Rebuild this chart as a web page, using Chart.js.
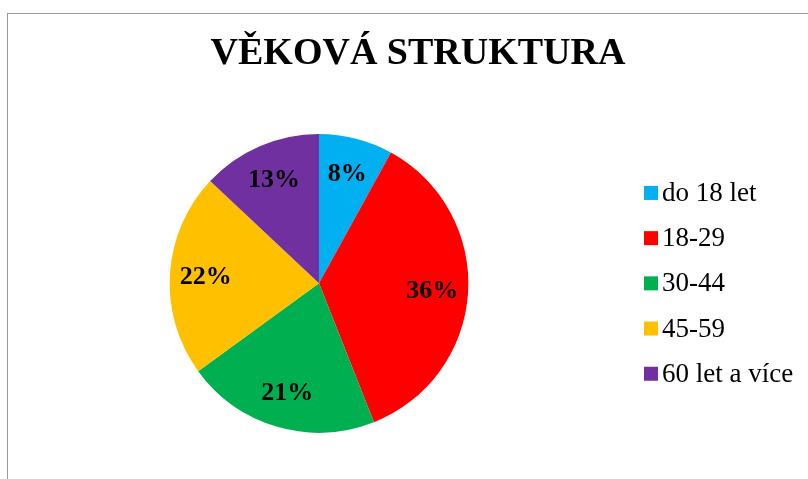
<!DOCTYPE html>
<html>
<head>
<meta charset="utf-8">
<script src="https://cdn.jsdelivr.net/npm/chart.js@4/dist/chart.umd.min.js"></script>
<style>
  html, body { margin: 0; padding: 0; background: #fff; }
  #wrap { position: relative; width: 808px; height: 479px; overflow: hidden; }
  #frame { position: absolute; left: 7px; top: 13px; width: 900px; height: 600px;
           border-left: 1px solid #9a9a9a; border-top: 1px solid #9a9a9a; box-sizing: border-box; }
  canvas { position: absolute; left: 0; top: 0; }
</style>
</head>
<body>
<div id="wrap">
  <div id="frame"></div>
  <canvas id="c" width="808" height="479"></canvas>
</div>
<script>
const titleText = 'VĚKOVÁ STRUKTURA';
const categories = ['do 18 let', '18-29', '30-44', '45-59', '60 let a více'];
const shares = [8, 36, 21, 22, 13];
const colors = ['#00B0F0', '#FF0000', '#00B050', '#FFC000', '#7030A0'];

const serif = "'Liberation Serif', 'Times New Roman', serif";

// Custom legend as a layout box on the right
const legendPlugin = {
  id: 'sideLegend',
  beforeInit(chart) {
    const box = {
      position: 'right', weight: 10, fullSize: false,
      options: {},
      left: 0, top: 0, right: 0, bottom: 0, width: 0, height: 0,
      isHorizontal() { return false; },
      getPadding() { return { left: 0, right: 0, top: 0, bottom: 0 }; },
      update(maxWidth, maxHeight) { this.width = 198; this.height = maxHeight; },
      draw() {
        const ctx = chart.ctx;
        const labels = chart.data.labels;
        const bg = chart.data.datasets[0].backgroundColor;
        const step = 45.2;
        const midY = (this.top + this.bottom) / 2;
        const y0 = midY - step * (labels.length - 1) / 2;
        ctx.save();
        ctx.font = "27px " + serif;
        ctx.textBaseline = 'middle';
        ctx.textAlign = 'left';
        labels.forEach((lab, i) => {
          const cy = y0 + i * step;
          ctx.fillStyle = bg[i];
          ctx.fillRect(this.left + 34, cy - 7, 14, 14);
          ctx.fillStyle = '#000';
          ctx.fillText(lab, this.left + 52, cy + 1);
        });
        ctx.restore();
      }
    };
    Chart.layouts.addBox(chart, box);
  }
};

const labelPlugin = {
  id: 'sliceLabels',
  afterDatasetsDraw(chart) {
    const ctx = chart.ctx;
    const meta = chart.getDatasetMeta(0);
    const data = chart.data.datasets[0].data;
    ctx.save();
    ctx.font = "bold 26px " + serif;
    ctx.fillStyle = '#000';
    ctx.textAlign = 'center';
    ctx.textBaseline = 'middle';
    meta.data.forEach((arc, i) => {
      const p = arc.getProps(['x', 'y', 'startAngle', 'endAngle', 'outerRadius'], true);
      const mid = (p.startAngle + p.endAngle) / 2;
      const r = p.outerRadius * 0.76;
      ctx.fillText(data[i] + '%', p.x + Math.cos(mid) * r, p.y + Math.sin(mid) * r + 1);
    });
    ctx.restore();
  }
};

new Chart(document.getElementById('c'), {
  type: 'pie',
  data: {
    labels: categories,
    datasets: [{
      data: shares,
      backgroundColor: colors,
      borderWidth: 0,
      hoverOffset: 0
    }]
  },
  options: {
    responsive: false,
    animation: false,
    layout: { padding: { left: 28, right: 0, top: 0, bottom: 46.3 } },
    plugins: {
      legend: { display: false },
      tooltip: { enabled: false },
      title: {
        display: true,
        text: titleText,
        color: '#000',
        font: { family: serif, size: 38, weight: 'bold', lineHeight: 1.2 },
        padding: { top: 31.7, bottom: 56.7 }
      }
    }
  },
  plugins: [legendPlugin, labelPlugin]
});
</script>
</body>
</html>
